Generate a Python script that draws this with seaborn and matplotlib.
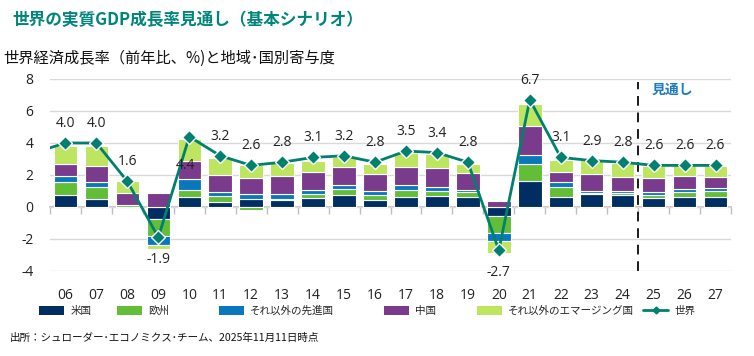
import numpy as np
import matplotlib
matplotlib.use("Agg")
import matplotlib.pyplot as plt
import seaborn as sns
from matplotlib.patches import Patch
from matplotlib.lines import Line2D

# ---------------- data ----------------
years = ['05', '06', '07', '08', '09', '10', '11', '12', '13', '14', '15', '16',
         '17', '18', '19', '20', '21', '22', '23', '24', '25', '26', '27']
nan = np.nan
us    = [nan, 0.75, 0.50, 0.00, -0.75, 0.65, 0.30, 0.50, 0.45, 0.55, 0.75, 0.45,
         0.60, 0.70, 0.65, -0.55, 1.60, 0.65, 0.80, 0.75, 0.55, 0.65, 0.65]
europe = [nan, 0.80, 0.73, 0.10, -1.07, 0.42, 0.36, -0.20, 0.05, 0.27, 0.38, 0.27,
          0.46, 0.29, 0.29, -1.09, 1.11, 0.63, 0.10, 0.15, 0.23, 0.31, 0.36]
other_adv = [nan, 0.40, 0.36, 0.05, -0.54, 0.69, 0.25, 0.30, 0.34, 0.25, 0.25, 0.25,
             0.31, 0.25, 0.10, -0.46, 0.56, 0.31, 0.13, 0.10, 0.15, 0.15, 0.15]
china = [nan, 0.73, 0.96, 0.70, 0.86, 1.09, 1.07, 1.00, 1.09, 1.11, 1.15, 1.09,
         1.15, 1.22, 1.11, 0.38, 1.78, 0.59, 1.03, 0.90, 0.90, 0.80, 0.69]
other_em = [nan, 1.15, 1.24, 0.80, -0.25, 1.43, 1.09, 0.85, 0.80, 0.69, 0.57, 0.63,
            0.88, 0.84, 0.55, -0.75, 1.36, 0.78, 0.86, 0.84, 0.75, 0.69, 0.73]
world = [3.4, 4.0, 4.0, 1.6, -1.9, 4.4, 3.2, 2.6, 2.8, 3.1, 3.2, 2.8,
         3.5, 3.4, 2.8, -2.7, 6.7, 3.1, 2.9, 2.8, 2.6, 2.6, 2.6]

series_names = ['米国', '欧州', 'それ以外の先進国', '中国', 'それ以外のエマージング国']
world_name = '世界'
forecast_label = '見通し'
title = '世界の実質GDP成長率見通し（基本シナリオ）'
subtitle = '世界経済成長率（前年比、%)と地域･国別寄与度'
source = '出所：シュローダー･エコノミクス･チーム、2025年11月11日時点'
yticks = [-4, -2, 0, 2, 4, 6, 8]

# ---------------- style ----------------
sns.set_theme(style="white")
plt.rcParams['font.family'] = ['Noto Sans CJK JP', 'DejaVu Sans']

colors = ['#002D62', '#63BE37', '#0A77BD', '#7B3B8C', '#BDE55F']
world_color = '#00806E'
grid_color = '#D9D9D9'
num_font = ['Open Sans', 'Noto Sans CJK JP']

fig = plt.figure(figsize=(7.54, 3.56), dpi=100)
ax = fig.add_axes([50 / 754, 1 - 271 / 356, (731 - 50) / 754, (271 - 79) / 356])

x = np.arange(len(years))
comps = [np.array(us), np.array(europe), np.array(other_adv), np.array(china), np.array(other_em)]
pos_bottom = np.zeros(len(years))
neg_bottom = np.zeros(len(years))
for vals, col in zip(comps, colors):
    v = np.nan_to_num(vals)
    bottom = np.where(v >= 0, pos_bottom, neg_bottom)
    ax.bar(x, v, bottom=bottom, width=0.76, color=col, edgecolor='white',
           linewidth=0.8, zorder=2)
    pos_bottom += np.where(v >= 0, v, 0)
    neg_bottom += np.where(v < 0, v, 0)

sns.lineplot(x=x, y=world, ax=ax, color=world_color, linewidth=2.0, marker='D',
             markersize=7, markerfacecolor=world_color, markeredgecolor='white',
             markeredgewidth=1.0, zorder=4, legend=False)

# data labels
for xi, w in zip(x, world):
    if xi == 0:
        continue
    if w < 0:
        off = (0, -16)
    elif years[xi] == '10':
        off = (-3, -21)
    else:
        off = (0, 14)
    ax.annotate(f'{w:.1f}', (xi, w), xytext=off, textcoords='offset points',
                ha='center', va='center', fontsize=10, color='#222222',
                family=num_font, zorder=5)

ax.set_xlim(0.5, len(years) - 0.5)
ax.set_ylim(-4, 8)
ax.set_yticks(yticks)
ax.set_yticklabels([str(t) for t in yticks], family=num_font, fontsize=10)
ax.set_xticks(x[1:])
ax.set_xticklabels(years[1:], family=num_font, fontsize=10)
ax.tick_params(axis='x', length=0, pad=12, colors='#222222')
ax.tick_params(axis='y', length=0, pad=12, colors='#222222')
for s in ax.spines.values():
    s.set_visible(False)
ax.grid(axis='y', color=grid_color, linewidth=1.0, zorder=0)
ax.set_axisbelow(True)
ax.set_xlabel('')
ax.set_ylabel('')

# zero axis with boundary ticks
sec = ax.secondary_xaxis(4 / 12)
sec.set_xticks(np.arange(0.5, len(years), 1.0))
sec.set_xticklabels([])
sec.tick_params(axis='x', direction='out', length=5, color='#BFBFBF', width=1)
sec.spines['bottom'].set_color('#BFBFBF')
for k in ['top', 'left', 'right']:
    sec.spines[k].set_visible(False)

# forecast divider
ax.axvline(19.5, ymin=0, ymax=(7.8 + 4) / 12, color='#1a1a1a', linestyle=(0, (5, 3.5)),
           linewidth=1.4, zorder=3)
ax.text(19.93, 7.35, forecast_label, color='#1F7BC1', fontsize=10, fontweight='bold',
        ha='left', va='center')

# titles
fig.text(12 / 754, 1 - 20 / 356, title, color='#00857B', fontsize=12,
         fontweight='bold', ha='left', va='center')
fig.text(3 / 754, 1 - 58 / 356, subtitle, color='#111111', fontsize=11,
         ha='left', va='center')
fig.text(10 / 754, 1 - 338 / 356, source, color='#111111', fontsize=7.6,
         ha='left', va='center')

# legend (one entry each, placed to match reference)
leg_x = [39, 117, 219, 384, 477, 643]
handles = [Patch(facecolor=c, edgecolor='none') for c in colors]
handles.append(Line2D([0], [0], color=world_color, lw=2, marker='D', markersize=3.5,
                      markerfacecolor=world_color, markeredgecolor=world_color))
labels = series_names + [world_name]
for h, lab, lx in zip(handles, labels, leg_x):
    fig.legend([h], [lab], loc='center left', bbox_to_anchor=(lx / 754, 1 - 311 / 356),
               frameon=False, fontsize=7.6, handlelength=2.4, handleheight=0.9,
               handletextpad=0.55, borderaxespad=0, borderpad=0)

fig.savefig('out.png', dpi=100)
